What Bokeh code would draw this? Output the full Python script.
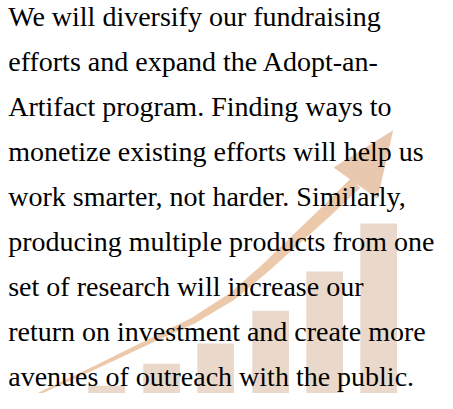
import numpy as np
from bokeh.plotting import figure
from bokeh.models import Range1d
from bokeh.core.properties import value
from bokeh.embed import file_html
from bokeh.resources import INLINE

# ---- data ----
lines = [
    "We will diversify our fundraising",
    "efforts and expand the Adopt-an-",
    "Artifact program. Finding ways to",
    "monetize existing efforts will help us",
    "work smarter, not harder. Similarly,",
    "producing multiple products from one",
    "set of research will increase our",
    "return on investment and create more",
    "avenues of outreach with the public.",
]

bar_x = [110, 167, 223, 280, 336, 392]      # bar centres
bar_h = [8, 31, 52, 86, 127, 177]           # bar heights

trend_x = [40, 100, 160, 200, 240, 275, 305, 335, 368]
trend_y = [0, 28, 57, 76, 101, 131, 159, 187, 219]
tip_x, tip_y = 407, 274

# ---- figure: data space 453 x 409 mapped into the frame ----
W, H = 437, 393
p = figure(width=W, height=H, output_backend="svg", toolbar_location=None,
           x_range=Range1d(0, 453), y_range=Range1d(0, 409),
           min_border=0, outline_line_color=None)
p.axis.visible = False
p.grid.visible = False
p.background_fill_color = "white"
p.border_fill_color = "white"

# bars
p.vbar(x=bar_x, top=bar_h, bottom=0, width=38,
       fill_color="#EAD8CB", line_color=None)

# arrow shaft as tapered polygon
tx = np.array(trend_x, float)
ty = np.array(trend_y, float)
dx = np.gradient(tx)
dy = np.gradient(ty)
n = np.hypot(dx, dy)
nx, ny = -dy / n, dx / n
hw = np.linspace(1.2, 7.0, len(tx))
px = np.concatenate([tx + nx * hw, (tx - nx * hw)[::-1]])
py = np.concatenate([ty + ny * hw, (ty - ny * hw)[::-1]])
p.patch(px, py, fill_color="#EDC9AC", line_color=None)

# arrow head
bx, by = tx[-1], ty[-1]
ddx, ddy = tip_x - bx, tip_y - by
L = np.hypot(ddx, ddy)
ux, uy = ddy / L, -ddx / L
hh = 28
p.patch([bx + ux * hh, tip_x, bx - ux * hh], [by + uy * hh, tip_y, by - uy * hh],
        fill_color="#E8C8AE", line_color=None)

# text (baseline shifted to compensate the renderer's text offset)
base0, step = 409 - 27.0 + 10.0, 46.8
ys = [base0 - i * step for i in range(len(lines))]
p.text(x=[8] * len(lines), y=ys, text=lines,
       text_font=value("Liberation Serif"), text_font_size="28px",
       text_color="#000000",
       text_baseline="alphabetic", text_align="left")

open("out.html", "w").write(file_html(p, INLINE))
